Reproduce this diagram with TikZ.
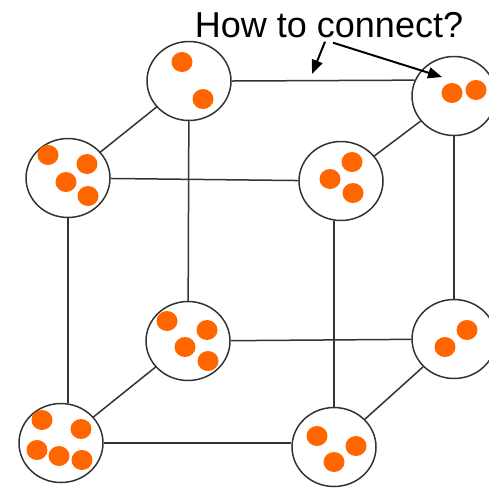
\documentclass[tikz,border=0pt]{standalone}
\usepackage{fontspec}
\setmainfont{Liberation Sans}
\usepackage{xcolor}
\usetikzlibrary{arrows.meta,positioning,shapes.geometric,calc}

\definecolor{grainorange}{HTML}{FF6600}

\begin{document}
\begin{tikzpicture}[
    x=0.02cm, y=-0.02cm,
    cell/.style={draw=black!80, line width=0.3mm, ellipse, minimum width=1.68cm, minimum height=1.58cm, inner sep=0, fill=white},
    link/.style={draw=black!80, line width=0.3mm},
    grain/.style={fill=grainorange},
    pointer/.style={-{Triangle[length=0.28cm, width=0.22cm]}, line width=0.4mm}
]
\useasboundingbox (0,0) rectangle (489,488);
% back face
\node[cell] (tbl) at (189,81) {};
\node[cell] (tbr) at (454,96) {};
\node[cell] (bbl) at (188,341) {};
\node[cell] (bbr) at (454,339) {};
% front face
\node[cell] (ftl) at (68,178) {};
\node[cell] (ftr) at (341,181) {};
\node[cell] (fbl) at (61,443) {};
\node[cell] (fbr) at (334,447) {};
% cube edges
\foreach \a/\b in {tbl/bbl,tbr/bbr,tbl/ftl,tbr/ftr,ftl/ftr,bbl/bbr,bbl/fbl,bbr/fbr} {
    \draw[link] (\a) -- (\b);
}
\draw[link] (tbl.east) -- (tbr.158);
\draw[link] (ftl.south) -- (ftl.south |- fbl.north);
\draw[link] (fbr.north) -- (fbr.north |- ftr.south);
\draw[link] (fbl.east) -- (fbl.east -| fbr.west);
% particles in each cell
\foreach \p in {(182,62),(203,99),
                (452,93),(476,90),
                (48,155),(87,164),(66,182),(88,196),
                (352,162),(330,179),(353,193),
                (167,321),(207,330),(185,347),(208,361),
                (467,330),(445,347),
                (42,420),(81,429),(37,450),(59,456),(82,460),
                (317,436),(356,446),(334,462)} {
    \fill[grain] \p ellipse [x radius=10.5, y radius=10];
}
% question
\node[font=\fontsize{20.5}{24}\selectfont, anchor=base, inner sep=0] (ask) at (329,37) {How to connect?};
\coordinate (gap) at (312,74);
\draw[pointer] ([shift={(-4,4)}]ask.south) -- (gap);
\draw[pointer] ([shift={(4,5)}]ask.south) -- ([shift={(-12,-19)}]tbr.center);
\end{tikzpicture}
\end{document}
